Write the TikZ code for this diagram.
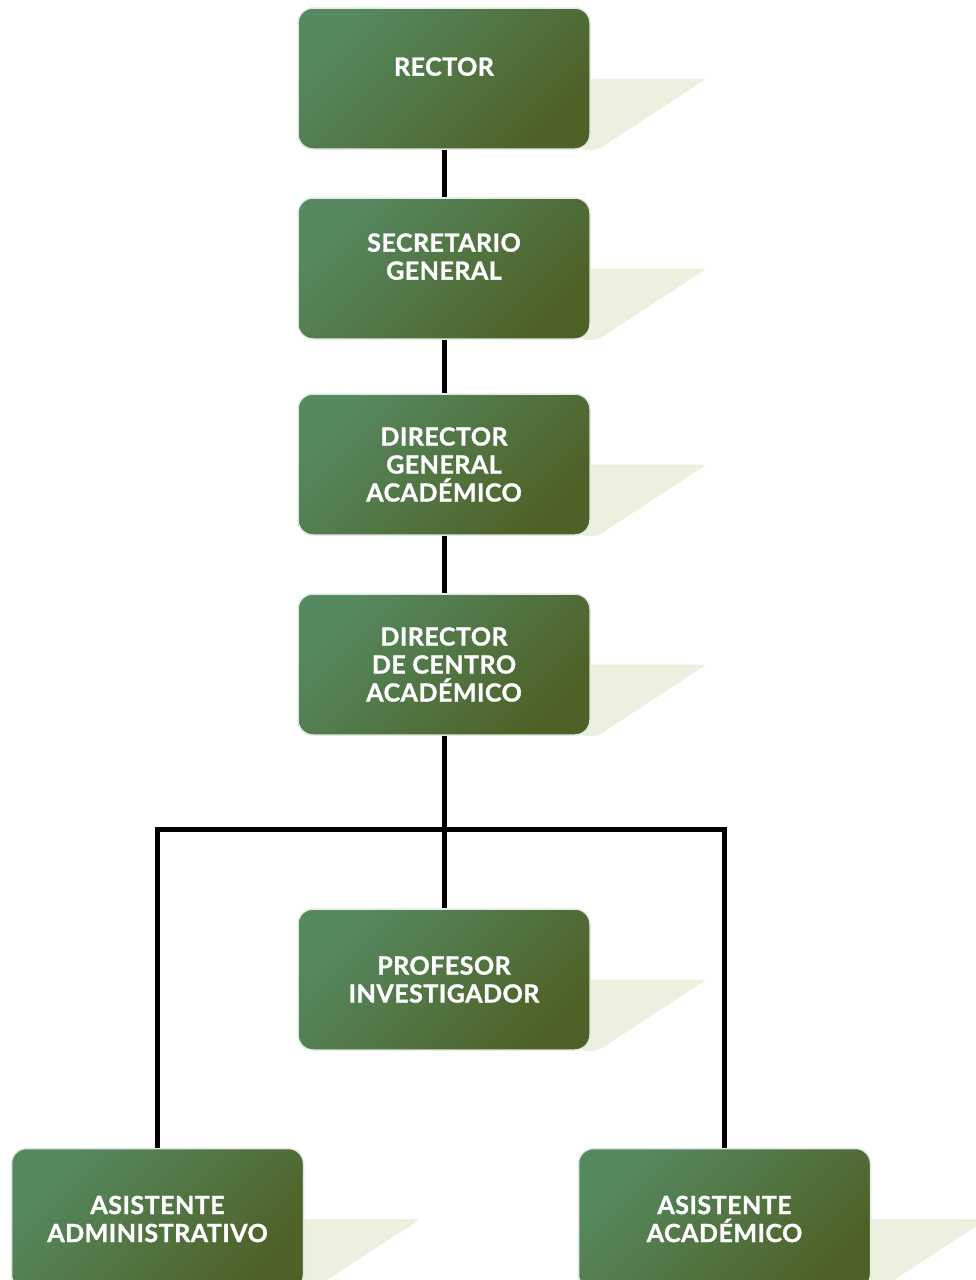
\documentclass[tikz,border=0pt]{standalone}
\usepackage{fontspec}
\setmainfont{Lato}[BoldFeatures={FakeBold=1.2,LetterSpace=2}]
\usetikzlibrary{backgrounds}
\definecolor{boxlight}{HTML}{558960}
\definecolor{boxdark}{HTML}{4E6126}
\definecolor{boxrim}{HTML}{E4E9E4}
\definecolor{shadowfill}{HTML}{EBF1DE}
\begin{document}
\begin{tikzpicture}
[x=1pt,y=-1pt,%
  unitdecorate/.style={shape=rectangle,rounded corners=15pt,
    minimum width=292pt,minimum height=141pt,inner sep=0pt,
    top color=boxlight,bottom color=boxdark,shading angle=45,
    draw=boxrim,line width=1.5pt,
    text=white,align=center,font=\bfseries\fontsize{25}{28}\selectfont},
  raiseddecorate/.style={text depth=24pt},
  shadowdecorate/.style={fill=shadowfill,rounded corners=4pt},
  linedecorate/.style={-,line width=5pt,black}]
\useasboundingbox (0,0) rectangle (976,1280);
%%% organisation chart
% units
\node (rector) at (444,78.5) [unitdecorate,raiseddecorate] {RECTOR};
\node (secretario) at (444,268.5) [unitdecorate,raiseddecorate] {SECRETARIO\\GENERAL};
\node (dirgeneral) at (444,464.5) [unitdecorate] {DIRECTOR\\GENERAL\\ACADÉMICO};
\node (dircentro) at (444,664.5) [unitdecorate] {DIRECTOR\\DE CENTRO\\ACADÉMICO};
\node (profesor) at (444,979.5) [unitdecorate] {PROFESOR\\INVESTIGADOR};
\node (asisadmin) at (157.5,1219) [unitdecorate] {ASISTENTE\\ADMINISTRATIVO};
\node (asisacad) at (724.5,1219) [unitdecorate] {ASISTENTE\\ACADÉMICO};
\coordinate (branch) at (444,829);
% shadows behind the units
\begin{scope}[on background layer]
\fill[shadowdecorate] ([xshift=-10pt]rector.east) -- ([xshift=116pt]rector.east) -- ([xshift=7pt]rector.south east) -- ([xshift=-10pt]rector.south east) -- cycle;
\fill[shadowdecorate] ([xshift=-10pt]secretario.east) -- ([xshift=116pt]secretario.east) -- ([xshift=7pt]secretario.south east) -- ([xshift=-10pt]secretario.south east) -- cycle;
\fill[shadowdecorate] ([xshift=-10pt]dirgeneral.east) -- ([xshift=116pt]dirgeneral.east) -- ([xshift=7pt]dirgeneral.south east) -- ([xshift=-10pt]dirgeneral.south east) -- cycle;
\fill[shadowdecorate] ([xshift=-10pt]dircentro.east) -- ([xshift=116pt]dircentro.east) -- ([xshift=7pt]dircentro.south east) -- ([xshift=-10pt]dircentro.south east) -- cycle;
\fill[shadowdecorate] ([xshift=-10pt]profesor.east) -- ([xshift=116pt]profesor.east) -- ([xshift=7pt]profesor.south east) -- ([xshift=-10pt]profesor.south east) -- cycle;
\fill[shadowdecorate] ([xshift=-10pt]asisadmin.east) -- ([xshift=116pt]asisadmin.east) -- ([xshift=7pt]asisadmin.south east) -- ([xshift=-10pt]asisadmin.south east) -- cycle;
\fill[shadowdecorate] ([xshift=-10pt]asisacad.east) -- ([xshift=116pt]asisacad.east) -- ([xshift=7pt]asisacad.south east) -- ([xshift=-10pt]asisacad.south east) -- cycle;
\end{scope}
% lines
\path
(rector) edge[linedecorate] (secretario)
(secretario) edge[linedecorate] (dirgeneral)
(dirgeneral) edge[linedecorate] (dircentro)
(dircentro) edge[linedecorate] (profesor);
\draw[linedecorate] (asisadmin) |- (branch) -| (asisacad);
\end{tikzpicture}
\end{document}
